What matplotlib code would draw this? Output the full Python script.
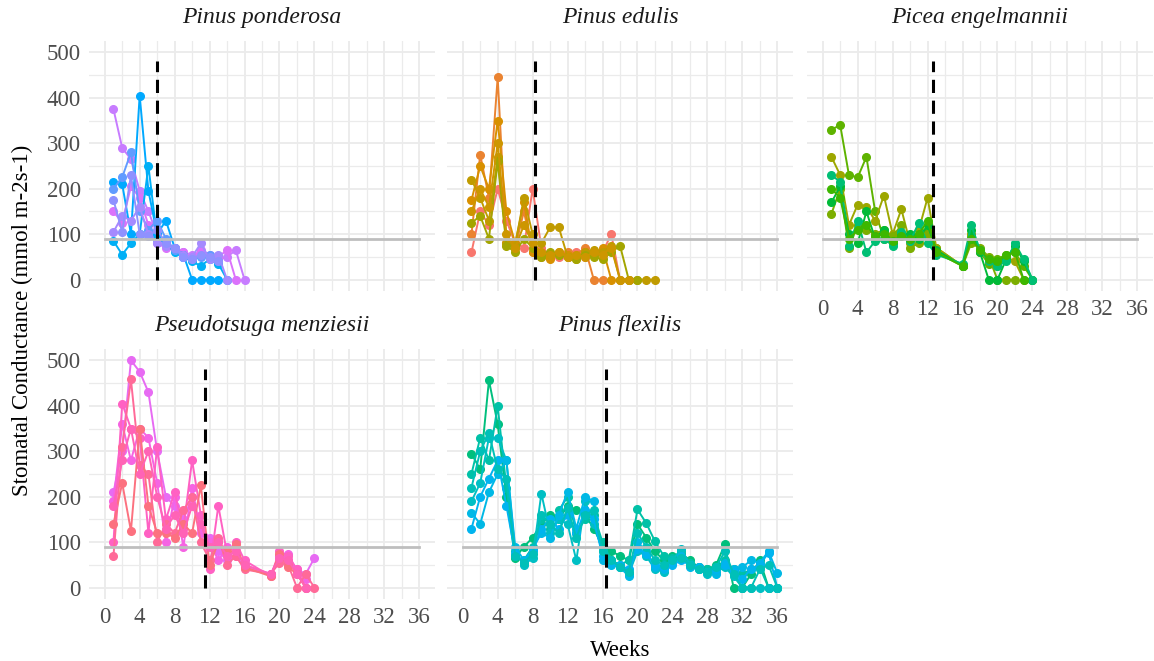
import matplotlib
matplotlib.use('Agg')
import matplotlib.pyplot as plt
from matplotlib.ticker import MultipleLocator

plt.rcParams['font.family'] = ['Liberation Serif', 'DejaVu Serif']
plt.rcParams['lines.scale_dashes'] = False

GRID = '#EBEBEB'
TICK_GREY = '#4D4D4D'
REF_GREY = '#BEBEBE'

# weekly stomatal conductance per tree, one list per tree
pond_weeks = list(range(1, 17))
pond_trees = [
    [375, 290, 265, 195, 150, 100, 75, 70, 60, 55, 60, 50, 45, 50, 65, 0],
    [150, 125, 205, 180, 120, 80, 70, 65, 60, 50, 65, 55, 50, 65, 0],
    [215, 210, 100, 405, 195, 100, 130, 70, 55, 0, 0, 0, 0],
    [85, 55, 80, 100, 250, 90, 80, 60, 50, 40, 30, 45, 35, 0],
    [200, 225, 280, 150, 110, 130, 90, 65, 50, 45, 50, 55, 40],
    [105, 140, 130, 160, 100, 80, 75, 70, 55, 50, 80, 45, 55, 0],
    [175, 105, 230, 100, 95, 110, 80, 70, 50, 45, 55, 50, 40],
]
pond_colors = ['#C77CFF', '#DB72FB', '#00A9FF', '#00B0F6', '#619CFF', '#A58AFF', '#8F91FF']

edu_weeks = list(range(1, 23))
edu_trees = [
    [60, 150, 120, 200, 130, 80, 70, 200, 70, 55, 50, 55, 60, 50, 55, 60, 100, 0],
    [100, 275, 180, 445, 80, 70, 150, 60, 50, 50, 55, 60, 55, 70, 0, 0],
    [175, 250, 200, 350, 150, 80, 170, 60, 55, 45, 60, 55, 50, 60, 55, 70, 0],
    [220, 180, 130, 270, 80, 75, 180, 100, 80, 115, 115, 50, 45, 60, 65, 60, 75, 0, 0, 0, 0, 0],
    [125, 140, 90, 260, 75, 60, 90, 70, 50, 60, 55, 50, 45, 55, 50, 45, 60, 75, 0, 0],
    [150, 200, 160, 300, 100, 70, 120, 80, 60, 55, 60, 50, 55, 50, 60, 55, 70, 0, 0],
]
edu_colors = ['#F8766D', '#EA8331', '#D89000', '#C09B00', '#A3A500', '#CD9600']

pic_weeks = list(range(1, 14)) + list(range(16, 25))
pic_trees = [
    [330, 340, 230, 225, 270, 150, 90, 80, 100, 85, 95, 110, 70, 30, 95, 60, 35, 45, 55, 60, 30, 0],
    [270, 230, 120, 165, 160, 130, 185, 100, 155, 80, 110, 180, 70, 30, 100, 60, 40, 30, 50, 40, 0],
    [145, 200, 70, 120, 110, 100, 110, 95, 120, 70, 80, 100, 60, 30, 80, 70, 50, 0, 0, 0],
    [170, 205, 100, 80, 150, 90, 110, 80, 100, 100, 90, 120, 65, 30, 110, 60, 0, 0, 45, 75, 40, 0],
    [230, 215, 75, 130, 60, 85, 90, 75, 105, 85, 125, 80, 55, 35, 120, 65, 40, 30, 40, 80, 45, 0],
    [200, 180, 90, 110, 120, 95, 100, 85, 95, 90, 100, 130, 60, 30, 90, 65, 45, 40, 55, 60, 0],
]
pic_colors = ['#5EB300', '#9DA700', '#7CAE00', '#00BA38', '#00BF74', '#3DB700']

psm_weeks = list(range(1, 17)) + list(range(19, 25))
psm_trees = [
    [210, 300, 500, 475, 430, 300, 200, 180, 150, 200, 130, 110, 80, 60, 70, 45, 30, 70, 60, 40, 30, 65],
    [190, 360, 280, 350, 330, 230, 100, 200, 90, 220, 120, 100, 60, 90, 80, 50, 30, 60, 75, 35, 20],
    [100, 405, 350, 330, 120, 310, 150, 210, 130, 280, 160, 40, 180, 75, 100, 60, 25, 80, 70, 40, 0],
    [70, 310, 458, 270, 250, 100, 140, 120, 170, 200, 100, 60, 110, 50, 70, 40, 30, 55, 50, 0, 30, 0],
    [140, 230, 125, 350, 180, 120, 120, 110, 140, 120, 225, 50, 100, 80, 95, 45, 25, 75, 45, 30, 0],
    [180, 280, 350, 250, 300, 200, 130, 160, 120, 180, 140, 90, 100, 70, 80, 50, 30, 65, 60, 30, 0],
]
psm_colors = ['#E76BF3', '#F564E3', '#FF61C3', '#FF6A98', '#FC717F', '#FF63B6']

flx_weeks = list(range(1, 37))
flx_trees = [
    [295, 260, 456, 360, 200, 65, 90, 110, 140, 160, 150, 180, 170, 160, 130, 90, 80, 70, 60, 140,
     110, 80, 60, 70, 75, 60, 45, 40, 50, 95, 0, 0, 30, 60, 0, 0],
    [250, 330, 280, 400, 220, 70, 60, 90, 150, 130, 170, 200, 120, 150, 160, 100, 60, 50, 60, 172,
     142, 102, 70, 65, 80, 55, 45, 40, 45, 60, 40, 30, 40, 45, 0, 0],
    [190, 230, 330, 330, 280, 80, 50, 65, 207, 120, 150, 140, 60, 190, 140, 80, 60, 45, 30, 80,
     70, 40, 35, 60, 85, 50, 40, 30, 35, 45, 25, 0, 0, 0, 0, 0],
    [165, 140, 210, 250, 280, 90, 60, 85, 120, 110, 160, 211, 130, 200, 190, 60, 50, 45, 25, 100,
     80, 45, 40, 55, 70, 45, 40, 35, 30, 55, 40, 45, 60, 55, 80, 32],
    [130, 200, 240, 280, 180, 75, 55, 80, 130, 150, 130, 160, 120, 170, 150, 70, 55, 50, 40, 85,
     75, 50, 45, 50, 60, 50, 45, 35, 40, 50, 35, 20, 40, 50, 77, 0],
    [220, 300, 340, 260, 240, 70, 55, 75, 160, 140, 120, 175, 110, 160, 170, 80, 60, 45, 35, 120,
     90, 60, 50, 60, 65, 50, 40, 35, 45, 80, 30, 0, 0, 40, 50, 0],
]
flx_colors = ['#00BF7D', '#00C1A7', '#00BFC4', '#00B8E5', '#00B4EF', '#00C0B8']

species = ['Pinus ponderosa', 'Pinus edulis', 'Picea engelmannii',
           'Pseudotsuga menziesii', 'Pinus flexilis']
weeks_all = [pond_weeks, edu_weeks, pic_weeks, psm_weeks, flx_weeks]
trees_all = [pond_trees, edu_trees, pic_trees, psm_trees, flx_trees]
colors_all = [pond_colors, edu_colors, pic_colors, psm_colors, flx_colors]
cutoff_week = [6.0, 8.3, 12.6, 11.5, 16.4]
threshold = 90

W, H = 1154, 661
fig = plt.figure(figsize=(W / 100, H / 100), dpi=100)
fig.patch.set_facecolor('white')

panel_w, panel_h = 346, 250
lefts = [89, 447, 807]
tops = [41, 349]
slots = [(0, 0), (0, 1), (0, 2), (1, 0), (1, 1)]

for i, (row, col) in enumerate(slots):
    ax = fig.add_axes([lefts[col] / W, 1 - (tops[row] + panel_h) / H, panel_w / W, panel_h / H])
    ax.set_xlim(-1.8, 37.8)
    ax.set_ylim(-25, 525)
    for s in ax.spines.values():
        s.set_visible(False)
    ax.xaxis.set_major_locator(MultipleLocator(4))
    ax.xaxis.set_minor_locator(MultipleLocator(2))
    ax.yaxis.set_major_locator(MultipleLocator(100))
    ax.yaxis.set_minor_locator(MultipleLocator(50))
    ax.grid(which='major', color=GRID, lw=1.3, zorder=0)
    ax.grid(which='minor', color=GRID, lw=0.9, zorder=0)
    ax.set_axisbelow(True)
    ax.tick_params(which='both', length=0, labelsize=16.5, labelcolor=TICK_GREY)
    ax.tick_params(axis='x', pad=6)
    ax.tick_params(axis='y', pad=6)
    if col != 0:
        ax.tick_params(axis='y', labelleft=False)
    if not (row == 1 or col == 2):
        ax.tick_params(axis='x', labelbottom=False)

    wk = weeks_all[i]
    for vals, c in zip(trees_all[i], colors_all[i]):
        ax.plot(wk[:len(vals)], vals, color=c, lw=1.4, marker='o', ms=5.5,
                mec=c, mfc=c, zorder=3)

    ax.plot([0, 36], [threshold, threshold], color=REF_GREY, lw=2.0, zorder=4)
    ax.plot([cutoff_week[i]] * 2, [0, 480], color='black', lw=2.2,
            dashes=(9.5, 5.5), zorder=5)

    ax.text(0.5, 1.095, species[i], transform=ax.transAxes, ha='center', va='center',
            fontsize=17, style='italic', color='#1A1A1A')

fig.text(620 / W, 1 - 650 / H, 'Weeks', ha='center', va='center', fontsize=16.5)
fig.text(22 / W, 1 - 320 / H, 'Stomatal Conductance (mmol m-2s-1)', ha='center',
         va='center', rotation=90, fontsize=16.5)

fig.savefig('out.png', dpi=100, facecolor='white')
